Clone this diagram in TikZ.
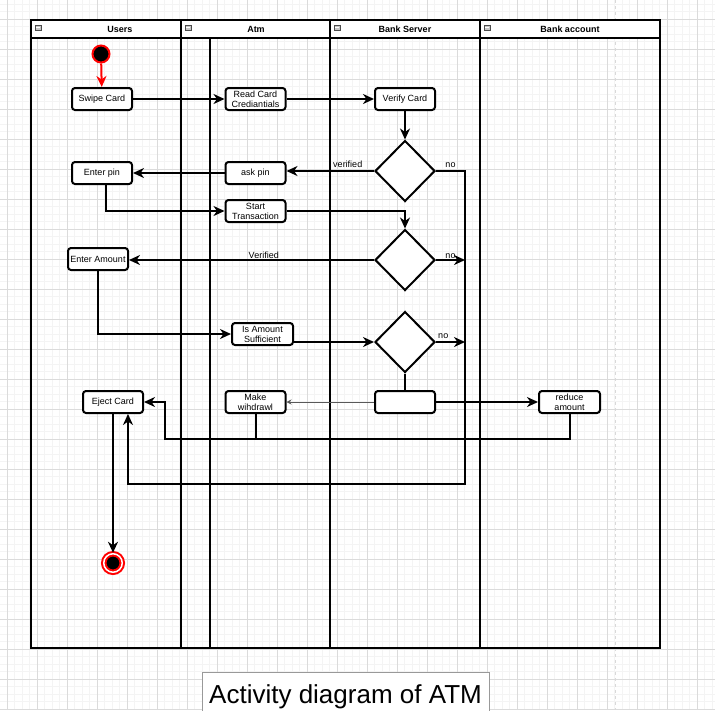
\documentclass[tikz,border=0pt]{standalone}
\usepackage{fontspec}
\setmainfont{Liberation Sans}
\usetikzlibrary{
    positioning,      % 相对定位
    arrows.meta,      % 箭头样式
    shapes.geometric  % 菱形
}

\begin{document}
\begin{tikzpicture}[
        x=1pt, y=-1pt,
        box/.style={
            rectangle,
            rounded corners=3pt,
            draw=black,
            line width=2pt,
            fill=white,
            minimum width=60pt,
            minimum height=22pt,
            inner sep=1pt,
            align=center,
            font=\fontsize{9}{10}\selectfont
        },
        decision/.style={
            diamond,
            draw=black,
            line width=2pt,
            fill=white,
            minimum width=60pt,
            minimum height=61pt,
            inner sep=0pt
        },
        arrow/.style={
            -{Stealth[length=11pt,width=10pt,inset=3.5pt]},
            line width=2pt
        },
        lane/.style={line width=2.4pt},
        lanetitle/.style={font=\bfseries\fontsize{9}{9}\selectfont},
        edgelabel/.style={font=\fontsize{9}{9}\selectfont, inner sep=0pt},
        minorgrid/.style={draw=gray!9, line width=0.8pt},
        majorgrid/.style={draw=gray!28, line width=0.8pt}
    ]
    % 背景网格
    \useasboundingbox[fill=white] (0,0) rectangle (715,710);
    \foreach \i in {0,...,96} {
        \draw[minorgrid] ({-0.5+7.5*\i},0) -- ({-0.5+7.5*\i},710);
        \draw[minorgrid] (0,{-3.5+7.5*\i}) -- (715,{-3.5+7.5*\i});
    }
    \foreach \i in {0,...,23} {
        \draw[majorgrid] ({7+30*\i},0) -- ({7+30*\i},710);
        \draw[majorgrid] (0,{19+30*\i}) -- (715,{19+30*\i});
    }
    \draw[gray!30, dashed, line width=1pt] (615,0) -- (615,710);

    % 泳道
    \draw[lane, fill=white] (31,20) rectangle (660,38);
    \draw[lane] (31,20) rectangle (660,648);
    \foreach \x in {181,330,480} \draw[lane] (\x,20) -- (\x,648);
    \draw[lane] (210,38) -- (210,648);
    \foreach \x in {38,188,337,487} {
        \draw[gray!60!black, fill=gray!45, line width=0.5pt] (\x-3,25) rectangle (\x+3,30.5);
        \draw[white, line width=0.7pt] (\x-2,27.75) -- (\x+2,27.75);
    }
    \node[lanetitle] (users) at (120,29) {Users};
    \node[lanetitle] (atm) at (256,29) {Atm};
    \node[lanetitle] (server) at (405,29) {Bank Server};
    \node[lanetitle] (account) at (570,29) {Bank account};

    % 活动节点
    \node[circle, fill=black, draw=red, line width=2pt, minimum size=17pt, inner sep=0pt] (init) at (101,54) {};
    \node[box] (swipe) at (102,99) {Swipe Card};
    \node[box] (readcard) at (255.5,99) {Read Card\\Crediantials};
    \node[box] (verify) at (405,99) {Verify Card};
    \node[decision] (check1) at (405,171) {};
    \node[box] (askpin) at (255.5,173) {ask pin};
    \node[box] (enterpin) at (102,173) {Enter pin};
    \node[box] (starttx) at (255.5,211) {Start\\Transaction};
    \node[decision] (check2) at (405,260) {};
    \node[box] (amount) at (98,259) {Enter Amount};
    \node[box, minimum width=61pt] (sufficient) at (262.5,334) {Is Amount\\Sufficient};
    \node[decision] (check3) at (405,342) {};
    \node[box] (fork) at (405,402) {};
    \node[box] (withdraw) at (255.5,402) {Make\\wihdrawl};
    \node[box, minimum width=61pt] (reduce) at (569.5,402) {reduce\\amount};
    \node[box] (eject) at (113,402) {Eject Card};
    \node[circle, fill=black, draw=red, double=white, line width=2pt, double distance=1.5pt, minimum size=18.5pt, inner sep=0pt] (final) at (113,563) {};

    \coordinate (nobus) at (465,484);
    \coordinate (ejback) at (165,439);

    % 箭头连接
    \draw[arrow, red] (init) -- (swipe);
    \draw[arrow] (swipe.east) -- (swipe.east -| readcard.west);
    \draw[arrow] (readcard.east) -- (readcard.east -| verify.west);
    \draw[arrow] (verify) -- (check1);
    \draw[arrow] (check1.west) -- (check1.west -| askpin.east) node[edgelabel, pos=0.3, above=2pt] {verified};
    \draw[arrow] (check1.east) -| (nobus) node[edgelabel, pos=0.25, above=2pt] {no} -| ([xshift=15pt]eject.south);
    \draw[arrow] (askpin.west) -- (askpin.west -| enterpin.east);
    \draw[arrow] ([xshift=4pt]enterpin.south) |- (starttx.west);
    \draw[arrow] (starttx.east) -| (check2.north);
    \draw[arrow] (check2.west) -- (check2.west -| amount.east) node[edgelabel, pos=0.45, above=0.5pt] {Verified};
    \draw[arrow] (check2.east) -- (check2.east -| nobus) node[edgelabel, midway, above=0.5pt] {no};
    \draw[arrow] (amount.south) |- (sufficient.west);
    \draw[arrow] (sufficient.east |- check3.west) -- (check3.west);
    \draw[arrow] (check3.east) -- (check3.east -| nobus) node[edgelabel, pos=0.25, above=2pt] {no};
    \draw[line width=2pt] (check3) -- (fork);
    \draw[-{Stealth[length=5pt,width=5pt]}, gray!70!black, line width=1pt] (fork.west) -- (withdraw.east);
    \draw[arrow] (fork.east) -- (reduce.west);
    \draw[arrow] (reduce.south) |- (ejback) |- (eject.east);
    \draw[line width=2pt] (withdraw.south) -- (withdraw.south |- ejback);
    \draw[arrow] (eject.south) -- (final);

    % 标题
    \node[draw=gray!80, line width=1pt, fill=white, anchor=base, minimum width=287pt, text height=31pt, text depth=10pt, inner sep=0pt, font=\fontsize{26}{26}\selectfont] (title) at (345.5,703) {Activity diagram of ATM};
\end{tikzpicture}
\end{document}
